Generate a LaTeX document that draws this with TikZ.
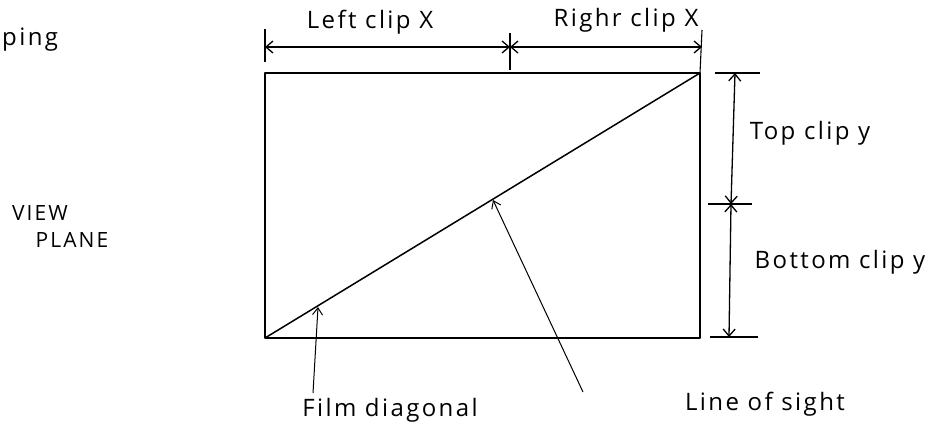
\documentclass[tikz,border=0pt]{standalone}
\usepackage{fontspec}
\setmainfont{Open Sans}[LetterSpace=10]
\usetikzlibrary{arrows.meta}
\begin{document}
\begin{tikzpicture}[x=1pt,y=-1pt,
  lbl/.style={inner sep=0pt, font=\fontsize{24}{28}\selectfont},
  caps/.style={inner sep=0pt, font=\fontsize{21}{24}\selectfont},
  frame/.style={line width=2pt, line join=round},
  dim/.style={line width=1.3pt, {Straight Barb[length=7pt,width=12pt]}-{Straight Barb[length=7pt,width=12pt]}},
  ext/.style={line width=1.1pt},
  leader/.style={line width=1pt, -{Straight Barb[length=7pt,width=10pt]}}]
\useasboundingbox (0,0) rectangle (931,432);
% corners of the film rectangle
\coordinate (TL) at (265,73);
\coordinate (TR) at (700,73);
\coordinate (BR) at (700,338);
\coordinate (BL) at (265,338);
\draw[frame] (TL) -- (TR) -- (BR) -- (BL) -- cycle;
% diagonal
\draw[line width=1.5pt] (BL) -- (TR);
% top dimension
\coordinate (xl) at (265,47);
\coordinate (xm) at (510,47);
\coordinate (xr) at (702,47);
\draw[ext] (265,29) -- (265,62);
\draw[ext] (510,33) -- (510,70);
\draw[ext] (702,30) -- (TR);
\draw[dim] (xl) -- (xm);
\draw[dim] (xm) -- (xr);
\node[lbl] (lcx) at (370,22) {Left clip X};
\node[lbl] (rcx) at (626,20) {Righr clip X};
% right dimension
\coordinate (yt) at (735,73);
\coordinate (ym) at (731,204);
\coordinate (yb) at (729,337);
\draw[ext] (715,73) -- (760,73);
\draw[ext] (708,204) -- (752,204);
\draw[ext] (710,337) -- (758,337);
\draw[dim] (yt) -- (ym);
\draw[dim] (ym) -- (yb);
\node[lbl] (tcy) at (810,133) {Top clip y};
\node[lbl] (bcy) at (840,262) {Bottom clip y};
% leaders
\node[lbl] (fd) at (390,410) {Film diagonal};
\node[lbl] (ls) at (765,404) {Line of sight};
\coordinate (fdend) at (313,393);
\coordinate (fdtip) at (318,307);
\coordinate (lsend) at (583,392);
\coordinate (lstip) at (493,200);
\draw[leader] (fdend) -- (fdtip);
\draw[leader] (lsend) -- (lstip);
% left texts
\node[lbl, anchor=west] (ping) at (2,40) {ping};
\node[caps] (view) at (40,213) {VIEW};
\node[caps] (plane) at (72,240) {PLANE};
\end{tikzpicture}
\end{document}
